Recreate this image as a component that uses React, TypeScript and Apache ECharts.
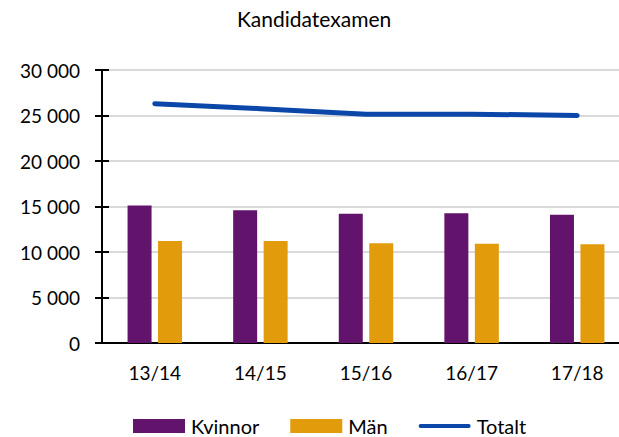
import React, { useEffect, useRef } from "react";
import * as echarts from "echarts";

const categories = ["13/14", "14/15", "15/16", "16/17", "17/18"];
const kvinnor = [15100, 14600, 14200, 14250, 14100];
const man = [11200, 11200, 10950, 10900, 10850];
const totalt = [26300, 25750, 25150, 25150, 25000];
const yTicks = [0, 5000, 10000, 15000, 20000, 25000, 30000];

const FONT = "Lato, sans-serif";
const fmt = (v: number) => String(v).replace(/\B(?=(\d{3})+(?!\d))/g, " ");
const LINE_ICON = "path://M2,0 L53,0 A2,2 0 0 1 53,4 L2,4 A2,2 0 0 1 2,0 Z";

export default function App() {
  const ref = useRef<HTMLDivElement>(null);
  useEffect(() => {
    if (!ref.current) return;
    const chart = echarts.init(ref.current, null, { renderer: "svg" });
    chart.setOption({
      animation: false,
      backgroundColor: "#ffffff",
      textStyle: { fontFamily: FONT, color: "#000" },
      title: {
        text: "Kandidatexamen",
        left: 237,
        top: 8,
        padding: 0,
        textStyle: { fontFamily: FONT, fontSize: 21, fontWeight: "normal", color: "#000" },
      },
      legend: {
        top: 416,
        left: 133,
        padding: 0,
        itemWidth: 52,
        itemHeight: 14,
        itemGap: 31,
        textStyle: { fontFamily: FONT, fontSize: 20, lineHeight: 20, color: "#000", padding: [0, 0, 0, 1] },
        data: [
          { name: "Kvinnor", icon: "rect" },
          { name: "Män", icon: "rect" },
          { name: "Totalt", icon: LINE_ICON, itemStyle: { color: "#0A47A9" } },
        ],
      },
      grid: { left: 102, top: 70, bottom: 94, width: 528, containLabel: false, outerBoundsMode: "none" },
      xAxis: {
        type: "category",
        data: categories,
        axisLine: { lineStyle: { color: "#000", width: 2 } },
        axisTick: { show: false },
        axisLabel: { fontFamily: FONT, fontSize: 19, color: "#000", margin: 20 },
      },
      yAxis: [
        {
          type: "value",
          min: yTicks[0],
          max: yTicks[yTicks.length - 1],
          interval: 5000,
          axisLine: { show: true, lineStyle: { color: "#000", width: 2 } },
          axisTick: { show: true, length: 7, lineStyle: { color: "#000", width: 2 } },
          splitLine: { lineStyle: { color: "#d9d9d9", width: 2 } },
          axisLabel: { fontFamily: FONT, fontSize: 19, color: "#000", margin: 22, formatter: fmt },
        },
        {
          type: "value",
          position: "left",
          min: yTicks[0],
          max: yTicks[yTicks.length - 1],
          interval: 5000,
          axisLine: { show: false },
          axisTick: { show: true, inside: true, length: 7, lineStyle: { color: "#000", width: 2 } },
          splitLine: { show: false },
          axisLabel: { show: false },
        },
      ],
      series: [
        {
          name: "Kvinnor",
          type: "bar",
          data: kvinnor,
          barWidth: 24,
          barGap: "27%",
          itemStyle: { color: "#62136B" },
        },
        {
          name: "Män",
          type: "bar",
          data: man,
          barWidth: 24,
          itemStyle: { color: "#E29B0A" },
        },
        {
          name: "Totalt",
          type: "line",
          data: totalt,
          symbol: "none",
          lineStyle: { color: "#0A47A9", width: 5, cap: "round", join: "round" },
          itemStyle: { color: "#0A47A9" },
        },
      ],
    });
    return () => chart.dispose();
  }, []);
  return (
    <div
      ref={ref}
      style={{ position: "fixed", left: 0, top: 0, width: 619, height: 437, overflow: "hidden" }}
    />
  );
}
